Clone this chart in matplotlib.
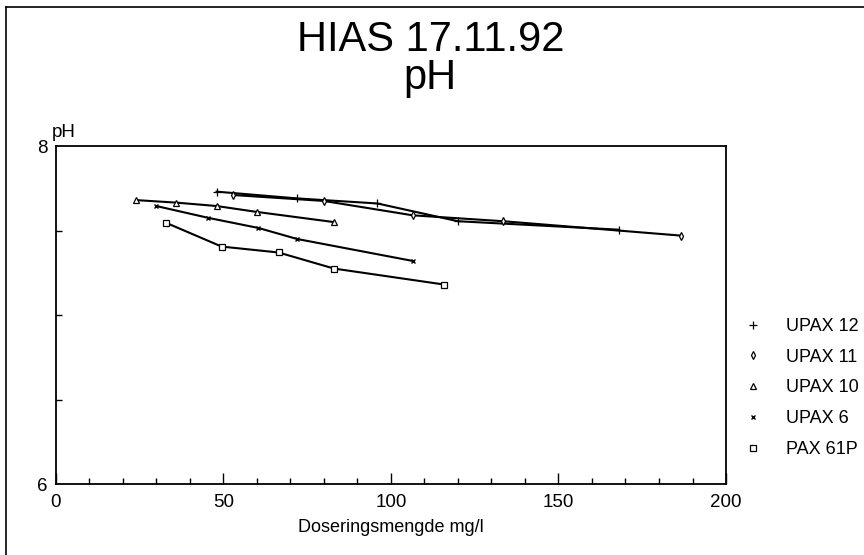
import matplotlib
matplotlib.use("Agg")
import matplotlib.pyplot as plt
from matplotlib import font_manager
from matplotlib.lines import Line2D
from matplotlib.ticker import MultipleLocator

# --- DATA ---
upax12_dose = [48, 72, 96, 120, 168]
upax12_ph = [7.73, 7.69, 7.66, 7.555, 7.505]

upax11_dose = [53, 80, 106.5, 133.5, 186.5]
upax11_ph = [7.71, 7.675, 7.59, 7.555, 7.47]

upax10_dose = [24, 36, 48, 60, 83]
upax10_ph = [7.68, 7.665, 7.645, 7.61, 7.55]

upax6_dose = [30, 45.5, 60.5, 72, 106.5]
upax6_ph = [7.645, 7.575, 7.515, 7.45, 7.32]

pax61p_dose = [33, 49.5, 66.5, 83, 116]
pax61p_ph = [7.545, 7.405, 7.37, 7.275, 7.18]

series_labels = ["UPAX 12", "UPAX 11", "UPAX 10", "UPAX 6", "PAX 61P"]
x_ticks = [0, 50, 100, 150, 200]
y_ticks = [6, 8]
# -----------------------------------------

names = {f.name for f in font_manager.fontManager.ttflist}
base_font = "Liberation Sans" if "Liberation Sans" in names else "DejaVu Sans"
plt.rcParams["font.family"] = [base_font, "DejaVu Sans"]

fig = plt.figure(figsize=(8.64, 5.55), dpi=100)
ax = fig.add_axes([0.0645, 0.1279, 0.7758, 0.609])

styles = [
    dict(marker="+", markersize=6, markeredgewidth=0.9),
    dict(marker="d", markersize=4, markerfacecolor="white", markeredgewidth=0.9),
    dict(marker="^", markersize=4.5, markerfacecolor="white", markeredgewidth=0.9),
    dict(marker="x", markersize=3.5, markeredgewidth=1.0),
    dict(marker="s", markersize=4, markerfacecolor="white", markeredgewidth=0.9),
]
all_data = [
    (upax12_dose, upax12_ph),
    (upax11_dose, upax11_ph),
    (upax10_dose, upax10_ph),
    (upax6_dose, upax6_ph),
    (pax61p_dose, pax61p_ph),
]

handles = []
for (xs, ys), st, lab in zip(all_data, styles, series_labels):
    ax.plot(xs, ys, color="black", linewidth=1.5, markeredgecolor="black", **st)
    handles.append(Line2D([], [], linestyle="none", color="black",
                          markeredgecolor="black", **st))

ax.set_xlim(0, 200)
ax.set_ylim(6, 8)
ax.set_xticks(x_ticks)
ax.set_yticks(y_ticks)
ax.xaxis.set_minor_locator(MultipleLocator(10))
ax.yaxis.set_minor_locator(MultipleLocator(0.5))
ax.tick_params(which="both", direction="in", colors="black", width=1.0)
ax.tick_params(axis="x", which="major", length=8, pad=7, labelsize=13.5)
ax.tick_params(axis="x", which="minor", length=4)
ax.tick_params(axis="y", which="major", length=0, pad=6, labelsize=13.5)
ax.tick_params(axis="y", which="minor", length=4)
for sp in ax.spines.values():
    sp.set_linewidth(1.3)

ax.set_xlabel("Doseringsmengde mg/l", fontsize=13, labelpad=6)

# y-axis unit above the "8"
fig.text(0.060, 0.7604, "pH", ha="left", va="center", fontsize=13.5)

# two-line title
fig.text(0.498, 0.928, "HIAS 17.11.92", ha="center", va="center", fontsize=30)
fig.text(0.498, 0.860, "pH", ha="center", va="center", fontsize=30)

fig.legend(handles, series_labels, loc="upper left",
           bbox_to_anchor=(744 / 864, 0.427), frameon=False,
           fontsize=13, handlelength=1.0, handletextpad=1.3,
           labelspacing=0.76, borderpad=0, borderaxespad=0)

# outer page frame (left and top edges visible in the scan)
fig.add_artist(Line2D([0.0075, 0.0075], [0.0, 0.987], color="black", linewidth=1.2))
fig.add_artist(Line2D([0.0075, 1.0], [0.987, 0.987], color="black", linewidth=1.2))

fig.savefig("out.png", dpi=100)
